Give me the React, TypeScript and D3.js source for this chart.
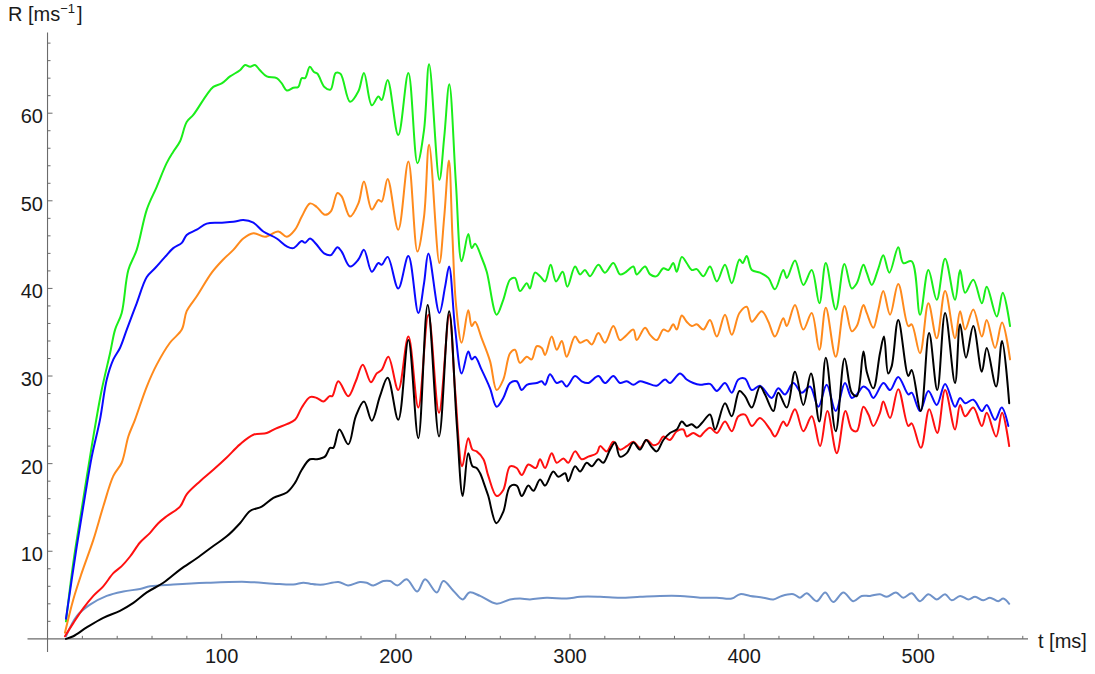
import React from "react";
import * as d3 from "d3";

type Pt = [number, number];

// time in ms, R in ms^-1
const xMajorTicks = [100, 200, 300, 400, 500];
const yMajorTicks = [10, 20, 30, 40, 50, 60];

const greenSeries: Pt[] = [
  [10.6, 2.0], [14.8, 8.7], [19.6, 14.8], [25.4, 22.0], [31.1, 28.4], [35.9, 32.6], [38.8, 35.3], [42.6, 37.2],
  [46.4, 42.1], [51.2, 44.4], [57, 49.0], [62.7, 51.6], [68.4, 54.3], [72.2, 55.6], [76.1, 56.8], [79.9, 59.0],
  [83.7, 59.8], [91.4, 62.1], [95.2, 63.0], [100, 63.4], [104.8, 64.2], [110.5, 64.9], [113.4, 65.5], [116.3, 65.3],
  [119.1, 65.5], [122, 64.9], [125.9, 64.2], [131.6, 64.0], [134.5, 63.4], [137.4, 62.6], [141.1, 62.9], [144, 63.0],
  [146, 64.0], [147.9, 64.0], [150.6, 65.3], [153, 64.7], [155, 64.5], [159, 63.0], [162.5, 62.7], [165.5, 64.6],
  [168.2, 64.5], [173.7, 61.3], [178.5, 62.5], [181.7, 64.6], [186.2, 60.9], [190, 61.9], [191.9, 61.5], [195.3, 63.8],
  [201.4, 57.5], [207.2, 64.6], [212.4, 54.3], [216.2, 58.1], [219.1, 65.6], [225, 52.4], [227.8, 57.3], [230.7, 63.3],
  [234.5, 52.0], [237.8, 43.1], [241.6, 46.2], [243.6, 44.6], [245.5, 45.1], [249.3, 43.5], [252.2, 41.9], [257.9, 37.0],
  [261.7, 38.7], [265.6, 41.0], [268.4, 41.2], [271.3, 39.7], [275.2, 40.6], [277, 40.0], [279.9, 41.8], [282.8, 41.4],
  [285.7, 40.8], [288.9, 42.7], [292, 40.8], [295.8, 41.9], [298.5, 40.2], [302.9, 42.5], [305.8, 41.6], [308.6, 42.1],
  [311.5, 41.4], [316.3, 42.7], [320.1, 41.8], [324.9, 42.9], [328.7, 41.6], [331.6, 41.8], [336.4, 42.5], [338.3, 41.6],
  [343.1, 42.5], [346, 41.6], [349.8, 41.4], [353.6, 42.3], [356.5, 42.1], [359.3, 42.9], [361.3, 41.9], [364.2, 43.6],
  [367, 42.9], [369.9, 42.1], [372.8, 42.2], [376.6, 41.4], [380.4, 42.5], [384.3, 40.8], [389, 42.7], [392.9, 40.6],
  [397.3, 43.3], [399.2, 42.9], [401.5, 43.7], [404.4, 42.1], [409.1, 41.8], [413.9, 41.2], [417.7, 39.9], [422.5, 42.1],
  [424.5, 41.2], [429.2, 43.2], [434, 40.4], [438.8, 42.1], [443.2, 38.3], [446.9, 42.9], [452.6, 37.6], [457.6, 42.8],
  [461.8, 40.0], [464.7, 40.6], [468.5, 42.7], [470.4, 41.8], [473.3, 40.4], [477.1, 42.3], [479.9, 43.8], [483.4, 41.8],
  [488.5, 44.7], [491.4, 42.9], [496.2, 43.1], [501, 37.0], [505.8, 42.1], [510.6, 38.7], [515.4, 43.4], [521.1, 38.7],
  [524, 42.1], [526.9, 39.5], [531.6, 41.0], [536.5, 38.3], [539.3, 40.2], [545.1, 36.8], [548.5, 39.5], [552.7, 35.7],
];

const orangeSeries: Pt[] = [
  [10, 0.7], [14.8, 4.5], [19.6, 7.5], [26.3, 11.3], [32, 15.1], [37.8, 18.6], [42.6, 20.1], [46.4, 23.1],
  [50.2, 25.0], [57, 28.8], [62.7, 31.3], [70.3, 33.8], [77.1, 35.3], [79.9, 37.4], [85.7, 39.1], [94.3, 41.8],
  [100.9, 43.3], [106.7, 44.4], [112.4, 45.7], [118.2, 46.3], [124.9, 45.9], [132.5, 46.5], [137.4, 45.9], [142.1, 46.7],
  [146, 48.2], [150.7, 49.7], [154.6, 49.3], [159.3, 48.4], [162.7, 48.8], [166.5, 50.9], [168.9, 50.5], [173.7, 48.2],
  [178.5, 49.7], [181.7, 52.2], [186.2, 49.0], [190, 50.1], [191.9, 49.9], [195.3, 52.5], [201.4, 46.7], [207.2, 54.5],
  [212.4, 44.2], [216.2, 48.2], [219.1, 56.4], [225, 42.9], [227.8, 48.2], [230.5, 54.6], [232.5, 46.0], [234.5, 38.3],
  [237.8, 33.8], [241.6, 37.5], [243.6, 35.7], [245.5, 36.2], [249.3, 34.3], [254.1, 31.7], [257.9, 28.4], [261.7, 29.6],
  [265.6, 32.6], [268.4, 33.0], [271.3, 31.5], [275.2, 32.2], [278, 31.9], [280.9, 33.4], [283.8, 33.2], [285.7, 32.4],
  [289.5, 34.5], [292.4, 33.0], [295.3, 34.0], [298.1, 32.2], [302.9, 34.5], [305.8, 33.8], [309.6, 34.1], [312.5, 33.6],
  [316.3, 34.9], [320.1, 33.8], [324.9, 35.7], [328.7, 34.1], [331.6, 34.5], [336.4, 35.3], [338.3, 34.1], [343.1, 35.5],
  [346, 34.7], [349.8, 34.1], [353.6, 35.3], [356.5, 35.1], [359.3, 35.9], [361.3, 35.3], [364.2, 36.9], [367, 36.2],
  [369.9, 35.7], [372.8, 35.9], [376.6, 35.3], [380.4, 36.4], [384.3, 34.5], [389, 37.0], [392.9, 34.7], [397.3, 37.2],
  [401.5, 37.9], [404.4, 36.2], [410.1, 37.4], [413.9, 36.2], [417.7, 34.5], [422.5, 36.6], [424.5, 35.7], [429.2, 38.1],
  [434, 35.3], [438.8, 37.2], [443.2, 33.0], [446.9, 37.8], [452.6, 32.2], [457.7, 38.0], [461.8, 35.1], [464.7, 35.7],
  [468.5, 38.1], [470.4, 37.2], [474.2, 35.5], [477.1, 37.6], [479.9, 39.7], [483.8, 37.0], [488.5, 40.5], [494.3, 35.7],
  [496.2, 35.9], [501, 32.6], [505.8, 38.3], [510.6, 34.3], [515.4, 39.7], [521.1, 34.3], [524, 37.4], [526.9, 35.3],
  [531.6, 37.6], [536.5, 34.5], [539.3, 36.4], [544.1, 33.2], [548.1, 36.1], [552.7, 31.9],
];

const blueSeries: Pt[] = [
  [10.6, 2.3], [16.8, 10.6], [21.5, 16.3], [25.4, 20.8], [30.1, 25.0], [34, 29.6], [37.8, 31.9], [41.6, 33.2],
  [45.5, 35.3], [51.2, 38.3], [57, 41.3], [61.7, 42.3], [67.5, 43.6], [72.2, 44.6], [77.1, 45.2], [79.9, 46.1],
  [85.7, 46.7], [91.4, 47.4], [99.1, 47.5], [106.7, 47.6], [112.4, 47.8], [118.2, 47.5], [123.9, 46.5], [131.6, 45.7],
  [137.4, 44.8], [141.1, 44.6], [146, 45.4], [147.9, 45.2], [150.7, 45.7], [154.1, 45.1], [158.8, 44.0], [162.7, 43.8],
  [166.5, 44.7], [168.9, 44.2], [173.7, 42.5], [178.5, 43.3], [181.7, 44.4], [186.2, 41.9], [190, 42.9], [191.9, 42.7],
  [195.3, 43.6], [201.4, 40.0], [207.2, 43.7], [212.9, 37.2], [216.2, 40.6], [218.7, 44.0], [225, 37.2], [228.3, 40.2],
  [230.6, 42.5], [234, 35.5], [237.8, 30.3], [241.6, 32.8], [243.6, 31.9], [245.5, 32.2], [249.3, 30.7], [254.1, 28.6],
  [257.9, 26.5], [261.7, 27.5], [265.6, 29.2], [269.4, 29.4], [272.3, 28.4], [275.2, 29.0], [280.9, 29.2], [283.8, 29.4],
  [285.7, 29.0], [288.5, 30.2], [292.4, 29.2], [295.3, 29.4], [298.1, 28.8], [302.9, 30.0], [306.7, 29.4], [310.5, 29.2],
  [316.3, 30.0], [320.1, 29.2], [324.9, 30.0], [328.7, 29.2], [332.6, 29.4], [336.4, 29.0], [340.2, 29.4], [344.1, 29.2],
  [349.8, 28.9], [354.6, 29.6], [357.4, 29.2], [363.2, 30.3], [367, 29.6], [370.8, 29.2], [374.7, 29.0], [380.4, 29.1],
  [384.3, 28.3], [389, 29.2], [392.9, 28.1], [396.7, 29.6], [400.5, 29.7], [404.4, 28.4], [409.1, 28.9], [415.8, 27.5],
  [419.6, 28.6], [423.5, 27.9], [428.2, 29.2], [433.1, 28.1], [437.8, 28.8], [442.6, 26.5], [447.4, 29.0], [452.6, 26.0],
  [457.9, 29.2], [461.8, 27.5], [464.7, 27.9], [468.5, 28.8], [471.4, 28.4], [474.2, 27.5], [480, 29.2], [483.8, 28.4],
  [488.5, 29.9], [494.3, 27.9], [496.2, 28.1], [501, 26.0], [505.8, 28.3], [510.6, 26.7], [515.4, 29.1], [521.1, 26.5],
  [524, 27.5], [526.9, 26.9], [531.6, 27.3], [536.5, 26.0], [539.3, 26.7], [544.1, 25.0], [547.9, 26.4], [551.7, 24.3],
];

const redSeries: Pt[] = [
  [10, 0.3], [14.8, 1.8], [20.6, 3.5], [26.3, 4.9], [32, 6.0], [37.8, 7.5], [42.6, 8.3], [47.4, 9.4],
  [53.1, 11.0], [58.9, 12.1], [63.6, 13.2], [68.4, 14.0], [76.1, 15.1], [79.9, 16.5], [87.6, 18.0], [95.2, 19.3],
  [102.9, 20.7], [110.5, 22.2], [118.2, 23.3], [125.9, 23.5], [131, 24.0], [137.4, 24.5], [142.1, 25.0], [146, 26.4],
  [150.7, 27.6], [154.6, 27.5], [158.4, 27.1], [162, 27.7], [163.5, 27.7], [167, 29.4], [172.7, 27.7], [177, 29.4],
  [181, 31.3], [185.7, 29.3], [189, 30.3], [191.9, 30.7], [195.7, 32.2], [201.4, 28.4], [207.2, 34.5], [212.9, 26.4],
  [218.7, 37.0], [224.8, 25.8], [230.7, 37.0], [234, 28.5], [238.1, 19.7], [241.6, 22.9], [244, 21.6], [246.4, 21.4],
  [250.3, 20.5], [253.1, 18.6], [257.9, 16.3], [261.7, 17.0], [265.6, 19.7], [269.4, 19.5], [272.3, 18.7], [276.1, 19.9],
  [280.4, 19.5], [282.8, 20.5], [285.7, 19.5], [289.5, 21.2], [292.4, 20.1], [296.2, 20.6], [299, 20.1], [302.9, 21.4],
  [306.7, 20.5], [310.5, 20.8], [315.4, 21.2], [317.3, 22.0], [321.1, 21.4], [324.9, 22.5], [328.7, 21.6], [332.6, 22.0],
  [336.4, 22.5], [340.2, 21.8], [344.1, 22.7], [347.9, 22.1], [350.7, 22.3], [353.6, 23.1], [357.4, 22.7], [361.3, 23.7],
  [365.1, 23.9], [367, 23.1], [370.8, 23.5], [374.7, 23.1], [376.6, 23.5], [380.4, 24.1], [384.3, 23.5], [389, 24.8],
  [392.9, 23.7], [396.7, 25.4], [400.5, 25.6], [404.4, 24.3], [409.1, 25.2], [414.9, 23.9], [417.7, 23.1], [422.5, 24.8],
  [424.5, 24.3], [429.2, 26.2], [434, 23.7], [438.8, 25.4], [443.6, 22.0], [447.8, 26.0], [453.2, 21.2], [458.2, 26.0],
  [461.8, 23.9], [464.7, 23.7], [468.5, 26.5], [471.4, 25.6], [474.2, 24.3], [478, 25.8], [479.9, 27.1], [483.8, 25.2],
  [488.5, 28.5], [494.3, 24.3], [496.2, 24.6], [501.5, 21.8], [506.3, 26.2], [510.9, 23.5], [515.4, 28.4], [521.1, 23.9],
  [524, 26.7], [526.9, 25.4], [531.6, 26.4], [536.5, 24.3], [539.3, 25.8], [544.7, 23.1], [548.1, 25.8], [552.2, 22.0],
];

const blackSeries: Pt[] = [
  [10.6, 0], [14.8, 0.3], [22.5, 1.3], [32, 2.4], [41.6, 3.2], [49.3, 4.1], [57, 5.3], [66.5, 6.4],
  [76.1, 7.9], [85.7, 9.2], [95.2, 10.6], [102.9, 11.7], [110.5, 13.2], [116.3, 14.6], [123, 15.1], [129.7, 16.1],
  [137.4, 16.7], [142.1, 17.8], [146, 19.3], [150.7, 20.5], [154.6, 20.5], [159.3, 20.8], [162.2, 21.8], [164.1, 21.8],
  [167.6, 23.9], [172.7, 22.2], [177, 25.4], [181.7, 27.1], [186.2, 24.9], [190.9, 27.7], [195.3, 29.8], [201.4, 25.0],
  [207.2, 34.1], [212.9, 22.9], [218.3, 38.1], [224.8, 23.1], [230.6, 37.4], [235, 24.5], [238.4, 16.3], [241.6, 21.2],
  [244, 19.7], [246.4, 19.5], [248.4, 18.9], [251.2, 17.4], [253.1, 16.3], [257.7, 13.2], [261.7, 14.5], [265.6, 17.4],
  [269.4, 17.5], [272.3, 16.3], [276.1, 17.5], [279, 16.9], [282.8, 18.2], [285.7, 17.5], [290.4, 19.1], [293.3, 18.5],
  [297.2, 18.9], [299, 18.0], [302.9, 19.7], [305.8, 19.1], [309.6, 20.1], [312.5, 19.7], [316.3, 20.5], [319.1, 20.1],
  [323, 21.6], [325.9, 22.4], [328.7, 20.8], [332.6, 21.2], [336.4, 22.4], [340.2, 21.6], [343.7, 22.7], [346.9, 21.9],
  [349.8, 21.4], [353.6, 22.7], [357.4, 23.5], [361.3, 23.9], [364.2, 24.8], [367, 24.3], [369.9, 24.5], [372.8, 24.1],
  [375.6, 24.6], [380.4, 25.6], [383.3, 23.9], [389, 26.9], [392.9, 25.4], [397.3, 28.3], [400.5, 27.7], [404.4, 26.4],
  [409.1, 28.8], [412, 27.9], [416.8, 26.0], [419.6, 28.1], [424.5, 26.4], [429.2, 30.5], [434, 26.7], [438.4, 30.3],
  [443.2, 24.8], [446.9, 32.1], [452.6, 23.7], [457.7, 32.0], [461.8, 28.1], [464.7, 27.7], [468.5, 32.8], [470.4, 30.5],
  [474.2, 28.6], [478, 32.6], [480.3, 34.5], [482.7, 30.3], [484.7, 31.1], [488.5, 36.4], [494.3, 30.0], [496.2, 30.7],
  [501.4, 26.0], [506.2, 34.9], [510.9, 28.4], [515.4, 37.2], [521.1, 29.2], [524, 35.9], [527.4, 32.1], [531.6, 35.7],
  [536.5, 30.5], [539.3, 33.2], [544.7, 28.8], [548.1, 34.0], [552.2, 26.9],
];

const steelSeries: Pt[] = [
  [10.6, 0.3], [16.8, 2.6], [24.4, 3.9], [34, 4.9], [43.5, 5.4], [53.1, 5.7], [58.9, 6.0], [72.2, 6.2],
  [91.4, 6.4], [114.4, 6.5], [129.7, 6.3], [141.1, 6.2], [146.9, 6.4], [150.7, 6.3], [154.6, 6.2], [158.4, 6.2],
  [167, 6.5], [172.5, 6.1], [179.4, 6.5], [183.3, 6.4], [187.1, 6.1], [192.8, 6.6], [196.7, 6.6], [200.9, 6.1],
  [206.2, 6.8], [212.3, 5.4], [216.8, 6.8], [223.5, 5.3], [227.3, 6.6], [233, 5.5], [238.4, 4.5], [242.2, 5.3],
  [248.4, 4.9], [257.9, 4.0], [265.6, 4.5], [271.3, 4.6], [277, 4.5], [286.6, 4.7], [298.1, 4.6], [305.8, 4.8],
  [317.3, 4.8], [328.7, 4.7], [340.2, 4.8], [351.7, 4.9], [363.2, 4.9], [374.7, 4.7], [384.3, 4.7], [392.9, 4.6],
  [397.7, 5.1], [403.5, 4.9], [411, 4.7], [416.8, 4.5], [421.6, 4.9], [428.3, 5.1], [432.1, 4.7], [435.9, 5.2],
  [441.7, 4.3], [446.5, 5.3], [451.2, 4.2], [457, 5.3], [462.7, 4.3], [467.5, 4.9], [472.3, 4.9], [478, 5.1],
  [481.9, 4.8], [487.2, 5.3], [491.4, 4.7], [496.2, 5.2], [501, 4.3], [505.8, 5.1], [510.6, 4.5], [515.4, 5.1],
  [519.2, 4.4], [524, 4.9], [528.8, 4.5], [532.6, 4.8], [537.4, 4.4], [541.1, 4.7], [545.9, 4.3], [548.8, 4.6],
  [552.2, 4.0],
];

const seriesList = [
  { key: "green", color: "#1aee1a", data: greenSeries },
  { key: "orange", color: "#ff8a1c", data: orangeSeries },
  { key: "blue", color: "#0a0aff", data: blueSeries },
  { key: "steel", color: "#6f92c9", data: steelSeries },
  { key: "red", color: "#ff1010", data: redSeries },
  { key: "black", color: "#000000", data: blackSeries },
];

const FONT = "'Liberation Sans', Arial, Helvetica, sans-serif";

export default function App() {
  const width = 1095;
  const height = 674;

  const x = d3.scaleLinear().domain([-11.5, 563]).range([27.5, 1028]);
  const y = d3.scaleLinear().domain([-1.5, 69.2]).range([652, 32.6]);

  const line = d3
    .line<Pt>()
    .x((d) => x(d[0]))
    .y((d) => y(d[1]))
    .curve(d3.curveCatmullRom.alpha(0.5));

  const x0 = x(0);
  const y0 = y(0);

  const xMinor = d3.range(20, 561, 20).filter((v) => v % 100 !== 0);
  const yMinor = d3.range(2, 69, 2).filter((v) => v % 10 !== 0);

  const axisColor = "#6b6b6b";
  const textColor = "#1a1a1a";

  return (
    <svg
      width={width}
      height={height}
      style={{ position: "absolute", left: 0, top: 0, display: "block", background: "#fff" }}
    >
      {/* axes */}
      <line x1={x(-11.5)} x2={x(563)} y1={y0} y2={y0} stroke={axisColor} strokeWidth={1.1} />
      <line x1={x0} x2={x0} y1={y(-1.5)} y2={y(69.2)} stroke={axisColor} strokeWidth={1.1} />

      {/* x ticks */}
      {xMinor.map((v) => (
        <line key={"xm" + v} x1={x(v)} x2={x(v)} y1={y0} y2={y0 - 3} stroke={axisColor} strokeWidth={1} />
      ))}
      {xMajorTicks.map((v) => (
        <g key={"xM" + v}>
          <line x1={x(v)} x2={x(v)} y1={y0} y2={y0 - 5} stroke={axisColor} strokeWidth={1} />
          <text x={x(v)} y={663} textAnchor="middle" fontFamily={FONT} fontSize={20} fill={textColor}>
            {v}
          </text>
        </g>
      ))}

      {/* y ticks */}
      {yMinor.map((v) => (
        <line key={"ym" + v} x1={x0} x2={x0 + 3} y1={y(v)} y2={y(v)} stroke={axisColor} strokeWidth={1} />
      ))}
      {yMajorTicks.map((v) => (
        <g key={"yM" + v}>
          <line x1={x0} x2={x0 + 5} y1={y(v)} y2={y(v)} stroke={axisColor} strokeWidth={1} />
          <text x={43} y={y(v) + 10} textAnchor="end" fontFamily={FONT} fontSize={20} fill={textColor}>
            {v}
          </text>
        </g>
      ))}

      {/* axis labels */}
      <text x={8} y={21} fontFamily={FONT} fontSize={20} fill={textColor}>
        R [ms
        <tspan fontSize={13} dy={-8}>
          −1
        </tspan>
        <tspan dy={8} dx={2}>]</tspan>
      </text>
      <text x={1038} y={648} fontFamily={FONT} fontSize={20} fill={textColor}>
        t [ms]
      </text>

      {/* curves */}
      {seriesList.map((s) => (
        <path
          key={s.key}
          d={line(s.data) || ""}
          fill="none"
          stroke={s.color}
          strokeWidth={2}
          strokeLinejoin="round"
          strokeLinecap="round"
        />
      ))}
    </svg>
  );
}
